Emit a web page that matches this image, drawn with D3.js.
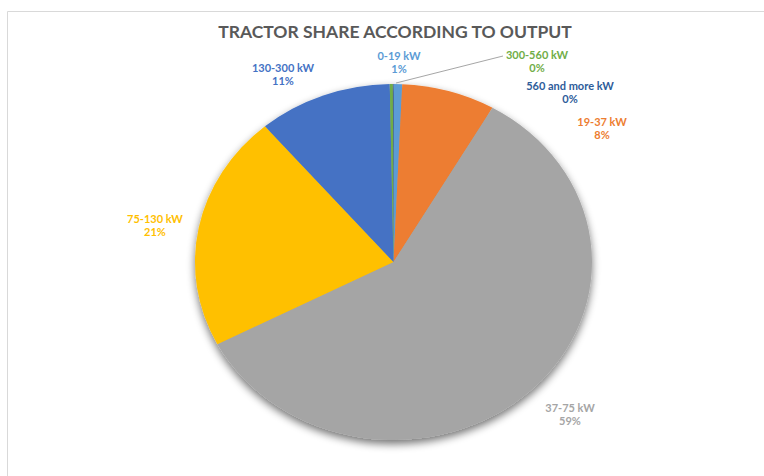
<!DOCTYPE html>
<html><head><meta charset="utf-8">
<script src="https://cdn.jsdelivr.net/npm/d3@7"></script>
<style>body{margin:0;background:#fff;}svg{display:block;}</style>
</head><body>
<svg id="chart" width="764" height="476"></svg>
<script>
const categories = ["0-19 kW","19-37 kW","37-75 kW","75-130 kW","130-300 kW","300-560 kW","560 and more kW"];
const values = [0.7, 7.6, 59.0, 21.4, 10.9, 0.25, 0.05];
const colors = ["#5B9BD5","#ED7D31","#A5A5A5","#FFC000","#4472C4","#70AD47","#264478"];
const labelColors = ["#5B9BD5","#ED7D31","#A5A5A5","#FFC000","#4472C4","#70AD47","#2E5C9A"];
const title = "TRACTOR SHARE ACCORDING TO OUTPUT";
// label anchor positions (layout)
const labelPos = [[399,56],[602,122],[570,408],[155,219],[283,68],[537,55],[570,86]];

const svg = d3.select("#chart");
const cx = 393.5, cy = 262, rx = 198.5, ry = 178;

// frame
svg.append("path").attr("d","M7.5,476 V11.5 H764").attr("fill","none").attr("stroke","#d9d9d9").attr("stroke-width",1);

const defs = svg.append("defs");
const f = defs.append("filter").attr("id","sh").attr("x","-20%").attr("y","-20%").attr("width","140%").attr("height","150%");
f.append("feGaussianBlur").attr("in","SourceAlpha").attr("stdDeviation",4);
f.append("feOffset").attr("dx",0).attr("dy",4).attr("result","ob");
f.append("feComponentTransfer").append("feFuncA").attr("type","linear").attr("slope",0.55);
const m = f.append("feMerge");
m.append("feMergeNode");
m.append("feMergeNode").attr("in","SourceGraphic");

svg.append("text").attr("x",395).attr("y",38).attr("text-anchor","middle")
  .attr("font-family","Lato, 'Open Sans', sans-serif").attr("font-weight","bold").attr("font-size",17.5)
  .attr("fill","#595959").text(title);

const data = categories.map((c,i)=>({cat:c,value:values[i],color:colors[i]}));
const pie = d3.pie().value(d=>d.value).sort(null);
const arcs = pie(data);
const arc = d3.arc().innerRadius(0).outerRadius(ry);

const g = svg.append("g").attr("filter","url(#sh)")
  .append("g").attr("transform",`translate(${cx},${cy}) scale(${rx/ry},1)`);
g.selectAll("path").data(arcs).join("path").attr("d",arc).attr("fill",d=>d.data.color);

const total = d3.sum(values);
// leader line for 300-560 kW
svg.append("line").attr("x1",396).attr("y1",83).attr("x2",503).attr("y2",56)
  .attr("stroke","#a6a6a6").attr("stroke-width",1);

const lab = svg.append("g").attr("font-family","Lato, 'Open Sans', sans-serif").attr("font-weight","bold").attr("font-size",11).attr("text-anchor","middle");
data.forEach((d,i)=>{
  const [x,y] = labelPos[i];
  const t = lab.append("text").attr("x",x).attr("y",y).attr("fill",labelColors[i]);
  t.append("tspan").attr("x",x).attr("dy","0.35em").text(d.cat);
  t.append("tspan").attr("x",x).attr("dy","1.2em").text(Math.round(d.value/total*100)+"%");
});
</script>
</body></html>
